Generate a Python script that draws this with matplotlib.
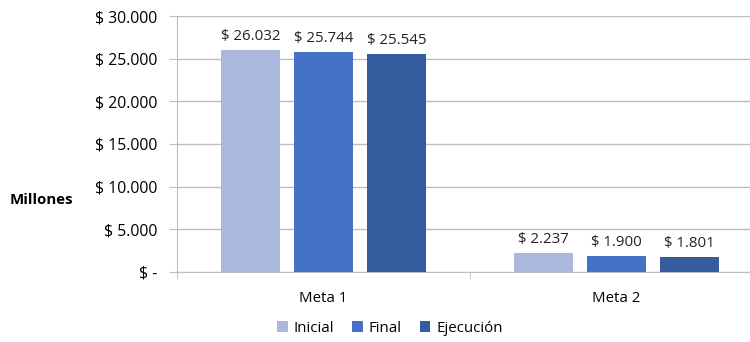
import matplotlib.pyplot as plt
import numpy as np
from matplotlib.ticker import FuncFormatter

categories = ['Meta 1', 'Meta 2']
series = ['Inicial', 'Final', 'Ejecución']
inicial = [26032, 2237]
final = [25744, 1900]
ejecucion = [25545, 1801]
colors = ['#A9B8DC', '#4472C4', '#345C9F']


def money(v, pos=None):
    if v == 0:
        return '$ -'
    return '$ ' + f'{v:,.0f}'.replace(',', '.')


plt.rcParams['font.family'] = ['Open Sans', 'DejaVu Sans']

fig = plt.figure(figsize=(7.5, 3.42), dpi=100)
ax = fig.add_axes([0.236, 0.2047, 0.7813, 0.7485])

x = np.arange(len(categories))
width = 0.201
step = 0.249
for i, (name, vals) in enumerate(zip(series, [inicial, final, ejecucion])):
    bars = ax.bar(x + (i - 1) * step, vals, width, color=colors[i], label=name, zorder=3)
    for b, v in zip(bars, vals):
        ax.text(b.get_x() + b.get_width() / 2, v + 700, money(v),
                ha='center', va='bottom', fontsize=10.8, color='#222222')

ax.set_xlim(-0.5, 1.5)
ax.set_ylim(0, 30000)
ax.set_yticks(range(0, 30001, 5000))
ax.yaxis.set_major_formatter(FuncFormatter(money))
ax.yaxis.grid(True, color='#BDBDBD', linewidth=1)
ax.set_axisbelow(True)

ax.set_xticks(x)
ax.set_xticklabels(categories)
ax.set_xticks([-0.5, 0.5, 1.5], minor=True)
ax.tick_params(axis='x', which='major', length=0, pad=14, labelsize=10.8)
ax.tick_params(axis='x', which='minor', length=5, color='#BDBDBD', direction='out')
ax.tick_params(axis='y', length=6, color='#BDBDBD', labelsize=11.3, pad=8)

for s in ['top', 'right']:
    ax.spines[s].set_visible(False)
ax.spines['left'].set_color('#BDBDBD')
ax.spines['bottom'].set_color('#BDBDBD')

fig.text(0.013, 0.415, 'Millones', fontsize=10.8, fontweight='bold', va='center')

ax.legend(loc='center', bbox_to_anchor=(390 / 750, 0.04), bbox_transform=fig.transFigure,
          ncol=3, frameon=False, fontsize=10.8, handlelength=0.7, handleheight=0.7,
          handletextpad=0.4, columnspacing=1.2)

fig.savefig('out.png', dpi=100)
